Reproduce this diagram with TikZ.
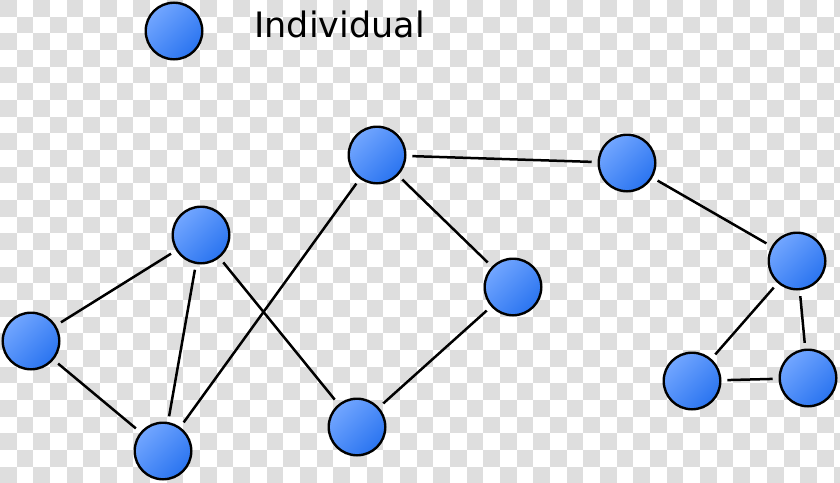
\documentclass[tikz,border=0pt]{standalone}
\usepackage{fontspec}
\setmainfont{DejaVu Sans}
\definecolor{azulclaro}{HTML}{72A6FF}
\definecolor{azuloscuro}{HTML}{2A74F0}
\definecolor{cuadro}{HTML}{DEDEDE}
\tikzset{
	individuo/.style={circle, draw=black, line width=1.2pt, minimum size=28.3pt, inner sep=0pt, outer sep=3.5pt,
		top color=azulclaro, bottom color=azuloscuro, shading angle=45},
	enlace/.style={line width=1.25pt}
}
\begin{document}
	\begin{tikzpicture}[x=0.5pt, y=-0.5pt]
		\useasboundingbox (0,0) rectangle (840,482);
		% fondo a cuadros
		\begin{scope}
			\clip (0,0) rectangle (840,482);
			\foreach \i in {0,...,25} \foreach \j in {0,...,14} {
				\fill[cuadro] ({2*\i*16.67},{2*\j*16.67}) rectangle +(16.67,16.67);
				\fill[cuadro] ({(2*\i+1)*16.67},{(2*\j+1)*16.67}) rectangle +(16.67,16.67);
			}
		\end{scope}
		% leyenda
		\node[individuo] (leyenda) at (174,31) {};
		\node[font=\fontsize{17.5}{21}\selectfont, anchor=base west, inner sep=0pt] (etiqueta) at (254,37) {Individual};
		% individuos
		\node[individuo] (a) at (31,341) {};
		\node[individuo] (b) at (201,235) {};
		\node[individuo] (c) at (163,451) {};
		\node[individuo] (d) at (377,155) {};
		\node[individuo] (e) at (357,427) {};
		\node[individuo] (f) at (513,287) {};
		\node[individuo] (g) at (627,163) {};
		\node[individuo] (h) at (797,261) {};
		\node[individuo] (i) at (692,381) {};
		\node[individuo] (j) at (808,378) {};
		% enlaces
		\draw[enlace] (a) -- (b) (a) -- (c) (b) -- (c) (b) -- (e) (c) -- (d)
			(d) -- (f) (e) -- (f) (d) -- (g) (g) -- (h) (h) -- (i) (h) -- (j) (i) -- (j);
	\end{tikzpicture}
\end{document}
